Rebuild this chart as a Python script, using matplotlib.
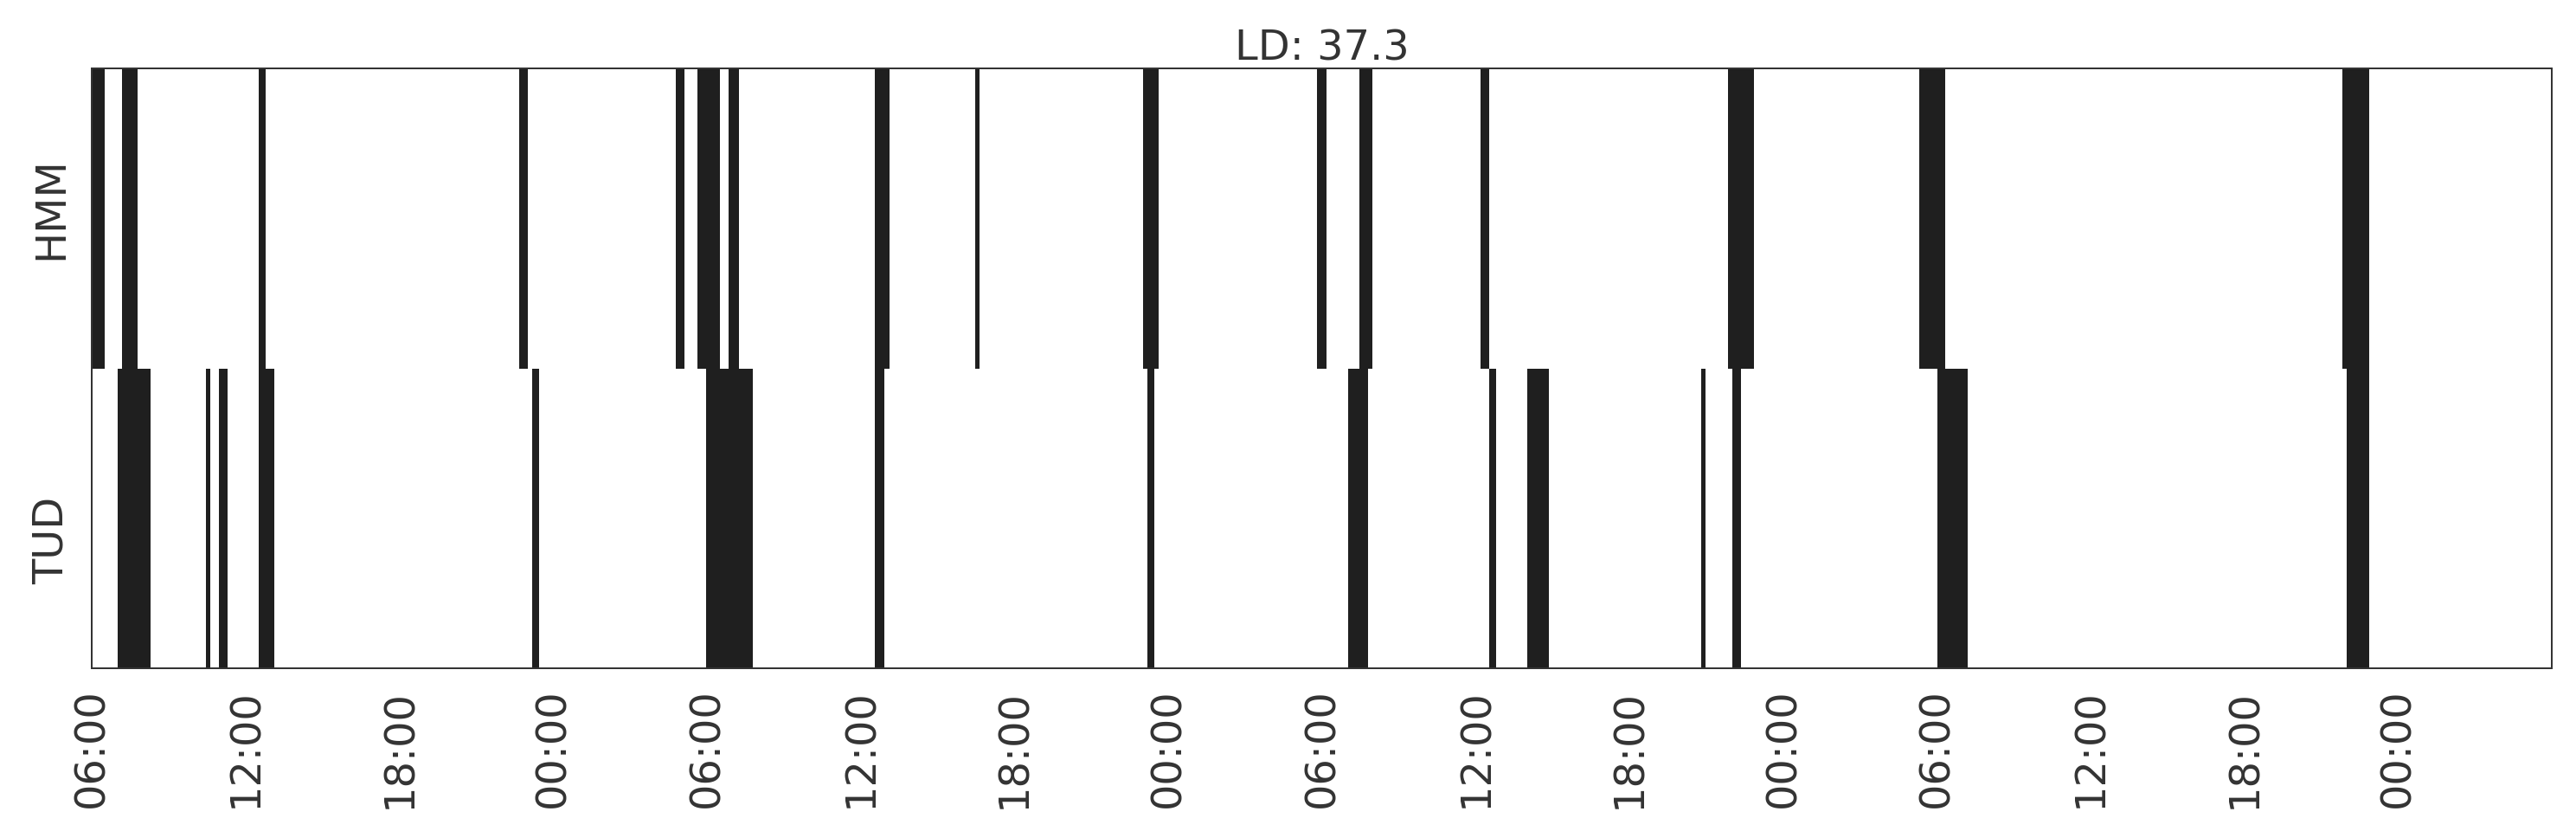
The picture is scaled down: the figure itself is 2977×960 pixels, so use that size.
import matplotlib
matplotlib.use("Agg")
import matplotlib.pyplot as plt

# sleep bouts, hours after the 06:00 start (start, end)
hmm_bouts = [
    (0.00, 0.51), (1.18, 1.79), (6.52, 6.78), (16.67, 17.01),
    (22.78, 23.13), (23.65, 24.50), (24.86, 25.26), (30.55, 31.14),
    (34.49, 34.66), (41.03, 41.63), (47.82, 48.18), (49.48, 49.98),
    (54.21, 54.55), (63.84, 64.85), (71.33, 72.34), (87.83, 88.87),
]
tud_bouts = [
    (1.01, 2.31), (4.47, 4.63), (4.98, 5.31), (6.52, 7.12),
    (17.20, 17.45), (23.99, 25.80), (30.55, 30.94), (41.20, 41.46),
    (49.03, 49.79), (54.55, 54.79), (56.01, 56.85), (62.80, 62.97),
    (64.01, 64.35), (72.01, 73.21), (88.01, 88.87),
]
row_labels = ["TUD", "HMM"]
tick_hours = list(range(0, 96, 6))
tick_labels = ["06:00", "12:00", "18:00", "00:00"] * 4
total_hours = 96
title = "LD: 37.3"

bar_color = "#1f1f1f"
text_color = "#333333"
fs = 34.5

fig = plt.figure(figsize=(29.77, 9.6), dpi=100)
ax = fig.add_axes([0.0356, 0.1958, 0.9550, 0.7219])

for row, bouts in enumerate([tud_bouts, hmm_bouts]):
    ax.broken_barh([(s, e - s) for s, e in bouts], (row, 1),
                   facecolors=bar_color, edgecolor="none")

ax.set_xlim(0, total_hours)
ax.set_ylim(0, 2)
ax.set_xticks(tick_hours)
ax.set_xticklabels(tick_labels, rotation=90, fontsize=fs, color=text_color)
# labels sit a little off the row centres in the original
ax.set_yticks([0.425, 1.535])
ax.set_yticklabels(row_labels, rotation=90, va="center", fontsize=fs,
                   color=text_color)
ax.tick_params(axis="both", length=0, pad=17)
for sp in ax.spines.values():
    sp.set_color("#333333")
    sp.set_linewidth(1.44)
ax.set_title(title, fontsize=fs, color=text_color, pad=5)

fig.savefig("out.png", dpi=100)
plt.close(fig)
